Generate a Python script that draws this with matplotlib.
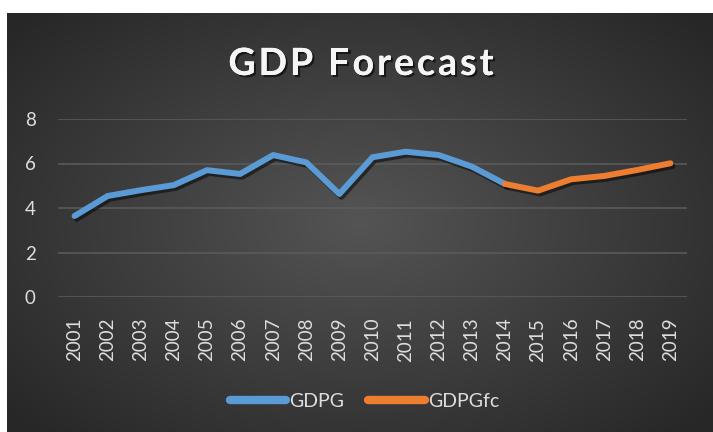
import numpy as np
import matplotlib
matplotlib.use('Agg')
import matplotlib.pyplot as plt
import matplotlib.patheffects as pe

years = [str(y) for y in range(2001, 2020)]
gdpg = [3.64, 4.54, 4.8, 5.03, 5.7, 5.53, 6.38, 6.05, 4.63, 6.28, 6.53, 6.38, 5.86, 5.08]
gdpg_fc = [5.08, 4.78, 5.29, 5.44, 5.71, 6.01]
title = 'GDP Forecast'

plt.rcParams['font.family'] = ['Lato', 'DejaVu Sans']

fig = plt.figure(figsize=(7.13, 4.32), dpi=100, facecolor='white')

# dark panel with radial gradient
bg = fig.add_axes([7 / 713, 0, 706 / 713, 419 / 432])
bg.set_axis_off()
yy, xx = np.mgrid[0:1:300j, 0:1:500j]
r = np.sqrt(((xx - 0.5) / 0.75) ** 2 + ((yy - 0.5) / 0.8) ** 2)
shade = np.clip(0.33 - 0.2 * r, 0.155, 0.34)
bg.imshow(np.dstack([shade] * 3), aspect='auto', extent=[0, 1, 0, 1], interpolation='bilinear')

ax = fig.add_axes([58 / 713, 1 - 297 / 432, 629 / 713, 178 / 432])
ax.set_facecolor('none')
x_all = np.arange(len(years))
shadow = [pe.SimpleLineShadow(offset=(1.5, -2), shadow_color='black', alpha=0.5), pe.Normal()]
ax.plot(x_all[:len(gdpg)], gdpg, color='#5B9BD5', lw=4.3, solid_capstyle='round',
        solid_joinstyle='round', label='GDPG', path_effects=shadow, zorder=3)
ax.plot(x_all[len(gdpg) - 1:], gdpg_fc, color='#ED7D31', lw=4.3, solid_capstyle='round',
        solid_joinstyle='round', label='GDPGfc', path_effects=shadow, zorder=3)

ax.set_xlim(-0.5, len(years) - 0.5)
ax.set_ylim(0, 8)
ax.set_yticks([0, 2, 4, 6, 8])
ax.set_xticks(x_all)
ax.set_xticklabels(years, rotation=90)
ax.grid(axis='y', color='#5c5c5c', lw=1.1)
ax.set_axisbelow(True)
for s in ax.spines.values():
    s.set_visible(False)
ax.tick_params(axis='y', length=0, pad=16, labelsize=13.5, labelcolor='#dedede')
ax.tick_params(axis='x', length=0, pad=15, labelsize=13.5, labelcolor='#dedede')

# title with letter spacing, one char at a time
renderer = fig.canvas.get_renderer()
tkw = dict(fontsize=27, fontweight='bold')
def text_w(s):
    t = fig.text(0, 0, s, **tkw)
    w = t.get_window_extent(renderer).width
    t.remove()
    return w
spacing = 3.0
total = text_w(title) + spacing * (len(title) - 1)
x0 = 361 - total / 2
title_fx = [pe.withSimplePatchShadow(offset=(1.5, -1.5), shadow_rgbFace='black', alpha=0.6), pe.Normal()]
for i, ch in enumerate(title):
    if ch == ' ':
        continue
    xpos = x0 + text_w(title[:i + 1]) - text_w(ch) + spacing * i
    fig.text(xpos / 713, 1 - 75 / 432, ch, ha='left', va='baseline', color='#f5f5f5',
             path_effects=title_fx, **tkw)

leg = ax.legend(loc='center', bbox_to_anchor=(0.487, -0.585), ncol=2, frameon=False,
                fontsize=14, handlelength=2.9, handletextpad=0.15, columnspacing=1.25)
for t in leg.get_texts():
    t.set_color('#dedede')
for ln in leg.get_lines():
    ln.set_linewidth(6)
    ln.set_path_effects([])

fig.savefig('out.png', dpi=100, facecolor='white')
